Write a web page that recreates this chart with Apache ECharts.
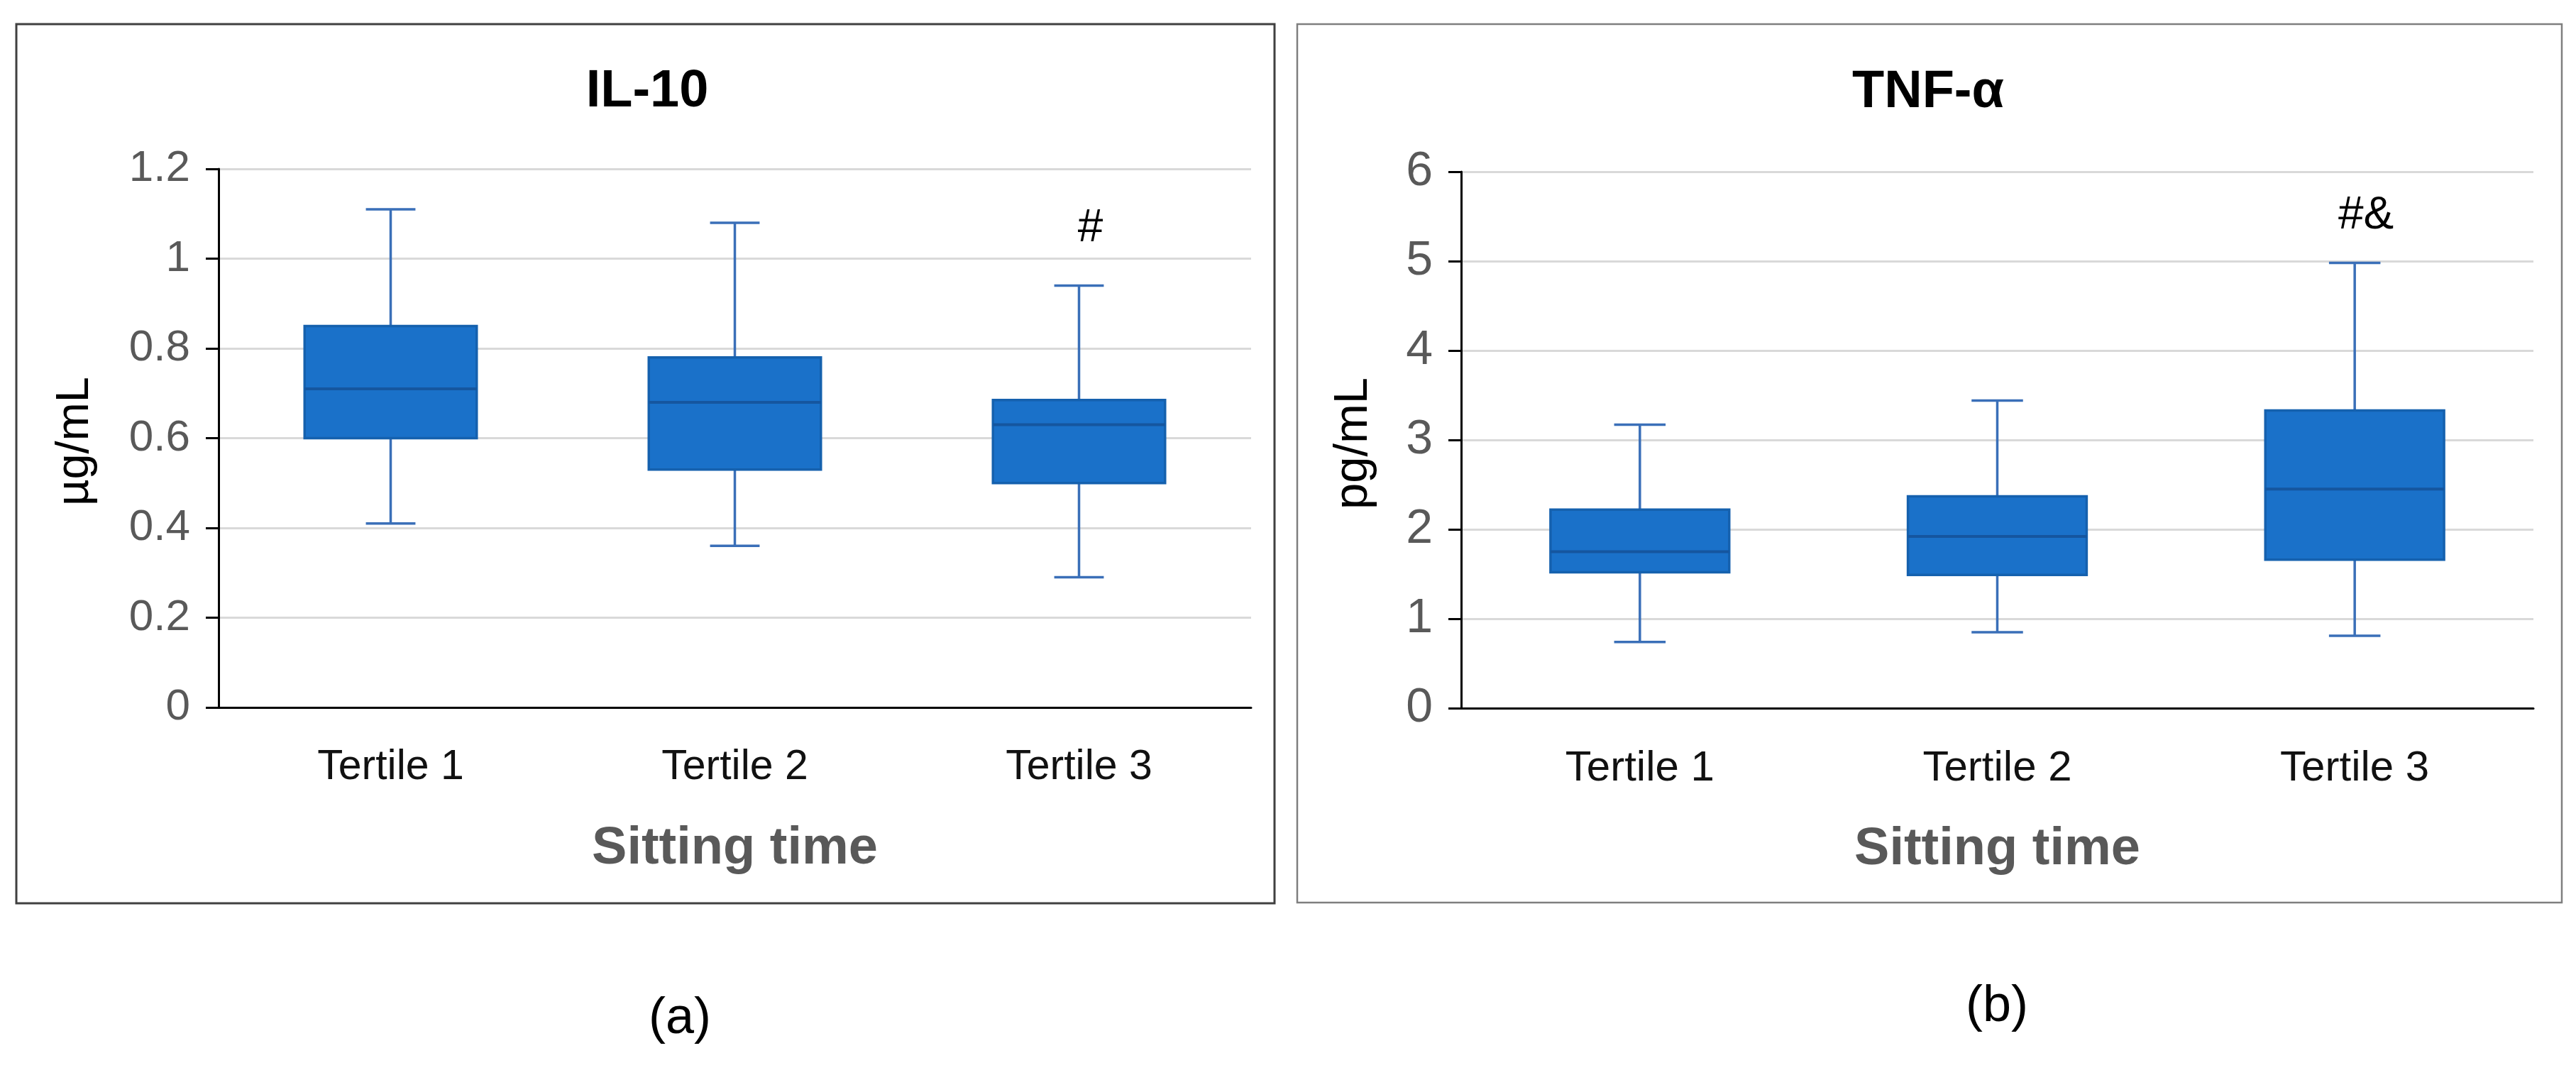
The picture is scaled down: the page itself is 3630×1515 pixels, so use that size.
<!DOCTYPE html>
<html>
<head>
<meta charset="utf-8">
<title>IL-10 / TNF-α by sitting time</title>
<script src="https://cdn.jsdelivr.net/npm/echarts@6/dist/echarts.min.js"></script>
<style>
  html, body { margin: 0; padding: 0; background: #fff; }
  #chart { width: 3630px; height: 1515px; }
</style>
</head>
<body>
<div id="chart"></div>
<script>
// categories
var categories = ['Tertile 1', 'Tertile 2', 'Tertile 3'];

// (a) IL-10, µg/mL
var il10Min = [0.41, 0.36, 0.29];
var il10Q1 = [0.60, 0.53, 0.50];
var il10Median = [0.71, 0.68, 0.63];
var il10Q3 = [0.85, 0.78, 0.685];
var il10Max = [1.11, 1.08, 0.94];
var il10Marks = ['', '', '#'];

// (b) TNF-α, pg/mL
var tnfMin = [0.74, 0.85, 0.81];
var tnfQ1 = [1.52, 1.49, 1.66];
var tnfMedian = [1.75, 1.92, 2.45];
var tnfQ3 = [2.22, 2.37, 3.33];
var tnfMax = [3.17, 3.44, 4.98];
var tnfMarks = ['', '', '#&'];

// y axis ticks
var il10Ticks = { min: 0, max: 1.2, interval: 0.2 };
var tnfTicks = { min: 0, max: 6, interval: 1 };

var FONT = '"Liberation Sans", Arial, sans-serif';
var BOX_FILL = '#1a71c9';
var BOX_EDGE = '#1561ae';
var MEDIAN = '#15569f';
var WHISKER = '#3a6fb8';

function buildRows(mn, q1, med, q3, mx) {
  return categories.map(function (c, i) {
    return [i, mn[i], q1[i], med[i], q3[i], mx[i]];
  });
}

// draws one box with narrow whisker caps, using the axis scales
function boxRenderer(marks, markGap, markSize) {
  return function (params, api) {
    var cat = api.value(0);
    var x = api.coord([cat, 0])[0];
    var band = api.size([1, 0])[0];
    var half = band * 0.25;
    var cap = band * 0.072;
    var yMin = api.coord([cat, api.value(1)])[1];
    var yQ1 = api.coord([cat, api.value(2)])[1];
    var yMed = api.coord([cat, api.value(3)])[1];
    var yQ3 = api.coord([cat, api.value(4)])[1];
    var yMax = api.coord([cat, api.value(5)])[1];
    var ws = { stroke: WHISKER, lineWidth: 3.5 };
    var children = [
      { type: 'line', shape: { x1: x, y1: yMax, x2: x, y2: yMin }, style: ws },
      { type: 'line', shape: { x1: x - cap, y1: yMax, x2: x + cap, y2: yMax }, style: ws },
      { type: 'line', shape: { x1: x - cap, y1: yMin, x2: x + cap, y2: yMin }, style: ws },
      { type: 'rect', shape: { x: x - half, y: yQ3, width: half * 2, height: yQ1 - yQ3 },
        style: { fill: BOX_FILL, stroke: BOX_EDGE, lineWidth: 3.5 } },
      { type: 'line', shape: { x1: x - half, y1: yMed, x2: x + half, y2: yMed },
        style: { stroke: MEDIAN, lineWidth: 4 } }
    ];
    var m = marks[params.dataIndex];
    if (m) {
      children.push({
        type: 'text',
        style: {
          text: m, x: x + 16, y: yMax - markGap,
          align: 'center', verticalAlign: 'middle',
          font: 'normal ' + markSize + 'px ' + FONT, fill: '#000'
        }
      });
    }
    return { type: 'group', children: children };
  };
}

function yAxisOf(idx, ticks, fontSize) {
  return {
    type: 'value', gridIndex: idx,
    min: ticks.min, max: ticks.max, interval: ticks.interval,
    axisLine: { show: true, lineStyle: { color: '#000', width: 3 } },
    axisTick: { show: true, length: 18, lineStyle: { color: '#000', width: 3 } },
    axisLabel: { margin: 40, color: '#595959', fontSize: fontSize, fontFamily: FONT },
    splitLine: { show: true, lineStyle: { color: '#d9d9d9', width: 3 } }
  };
}

function xAxisOf(idx, fontSize) {
  return {
    type: 'category', gridIndex: idx, data: categories,
    axisLine: { show: true, lineStyle: { color: '#000', width: 3 } },
    axisTick: { show: false },
    axisLabel: { margin: 55, color: '#111', fontSize: fontSize, fontFamily: FONT },
    name: 'Sitting time', nameLocation: 'middle', nameGap: 163,
    nameTextStyle: { color: '#595959', fontSize: 74, fontWeight: 'bold', fontFamily: FONT }
  };
}

function txt(text, x, y, size, weight, rotation) {
  return {
    type: 'text', x: x, y: y, rotation: rotation || 0,
    style: {
      text: text, align: 'center', verticalAlign: 'middle',
      font: (weight || 'normal') + ' ' + size + 'px ' + FONT, fill: '#000'
    }
  };
}

var chart = echarts.init(document.getElementById('chart'), null, { renderer: 'canvas' });

var option = {
  backgroundColor: '#fff',
  animation: false,
  grid: [
    { left: 308, right: 3630 - 1763, top: 238, bottom: 1515 - 997 },
    { left: 2059, right: 3630 - 3570, top: 242, bottom: 1515 - 998 }
  ],
  xAxis: [xAxisOf(0, 59), xAxisOf(1, 60)],
  yAxis: [yAxisOf(0, il10Ticks, 62), yAxisOf(1, tnfTicks, 68)],
  series: [
    {
      type: 'custom', xAxisIndex: 0, yAxisIndex: 0,
      renderItem: boxRenderer(il10Marks, 80, 64),
      encode: { x: 0, y: [1, 2, 3, 4, 5] },
      data: buildRows(il10Min, il10Q1, il10Median, il10Q3, il10Max)
    },
    {
      type: 'custom', xAxisIndex: 1, yAxisIndex: 1,
      renderItem: boxRenderer(tnfMarks, 66, 64),
      encode: { x: 0, y: [1, 2, 3, 4, 5] },
      data: buildRows(tnfMin, tnfQ1, tnfMedian, tnfQ3, tnfMax)
    }
  ],
  graphic: [
    { type: 'rect', shape: { x: 23, y: 34, width: 1773, height: 1239 },
      style: { fill: null, stroke: '#404040', lineWidth: 3 }, z: 100 },
    { type: 'rect', shape: { x: 1828, y: 34, width: 1782, height: 1238 },
      style: { fill: null, stroke: '#7f7f7f', lineWidth: 2.5 }, z: 100 },
    txt('IL-10', 912, 130, 74, 'bold'),
    txt('TNF-α', 2717, 131, 74, 'bold'),
    txt('µg/mL', 106, 622, 65, 'normal', Math.PI / 2),
    txt('pg/mL', 1908, 625, 67, 'normal', Math.PI / 2),
    txt('(a)', 958, 1436, 72),
    txt('(b)', 2814, 1419, 72)
  ]
};

chart.setOption(option);
</script>
</body>
</html>
